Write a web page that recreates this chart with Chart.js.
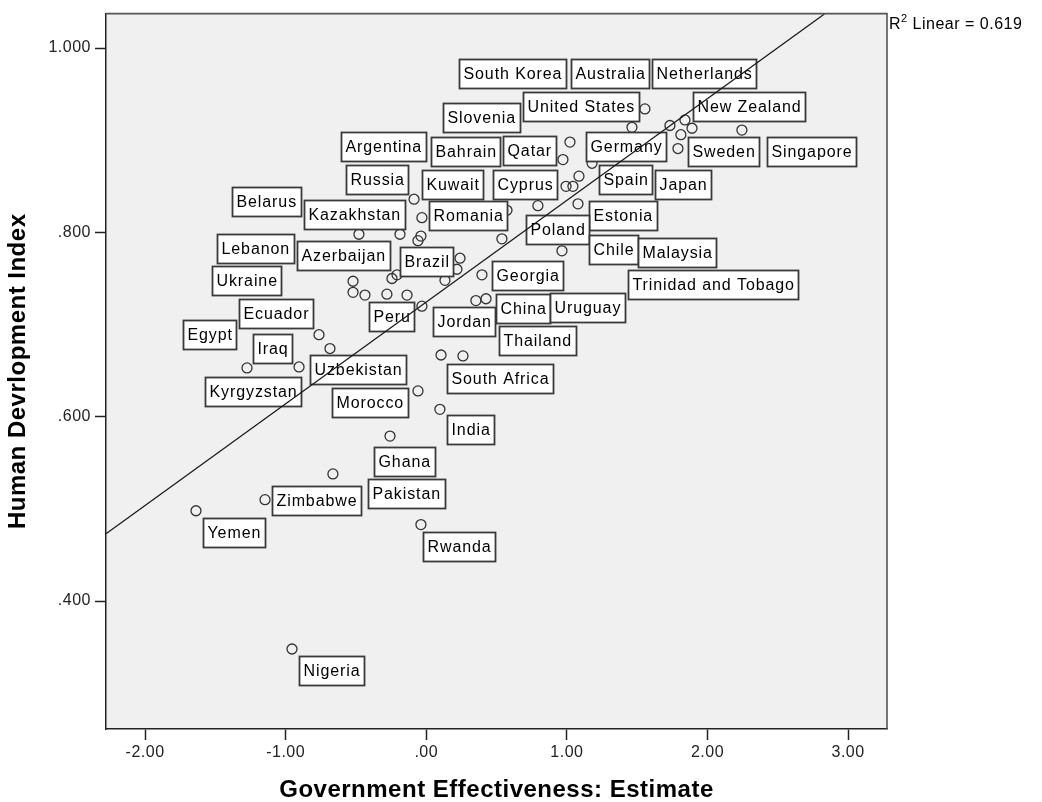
<!DOCTYPE html>
<html>
<head>
<meta charset="utf-8">
<script src="https://cdn.jsdelivr.net/npm/chart.js@4.4.1/dist/chart.umd.min.js"></script>
<style>
  body { margin: 0; background: #fff; }
  #wrap { width: 1042px; height: 802px; }
</style>
</head>
<body>
<div id="wrap"><canvas id="hdiChart" width="1042" height="802"></canvas></div>
<script>
const countries = ["South Korea","Australia","Netherlands","United States","New Zealand","Slovenia","Argentina","Bahrain","Qatar","Germany","Sweden","Singapore","Russia","Kuwait","Cyprus","Spain","Japan","Belarus","Kazakhstan","Romania","Estonia","Poland","Lebanon","Azerbaijan","Brazil","Chile","Malaysia","Ukraine","Georgia","Trinidad and Tobago","Ecuador","Peru","China","Uruguay","Jordan","Egypt","Thailand","Iraq","Uzbekistan","South Africa","Kyrgyzstan","Morocco","India","Ghana","Zimbabwe","Pakistan","Yemen","Rwanda","Nigeria","","","",""];

const govEffect = [1.022,1.555,1.840,1.463,1.890,0.972,-0.087,0.574,1.043,1.733,1.811,2.245,-0.187,-0.031,0.994,1.179,1.790,-0.479,-0.059,-0.038,1.086,0.794,-0.521,-0.244,-0.208,1.079,0.965,-0.521,0.396,0.240,-0.436,-0.280,0.425,0.538,0.133,-0.763,0.353,-1.275,-0.685,0.261,-0.905,-0.059,0.097,-0.258,-1.147,-0.664,-1.638,-0.038,-0.955,-0.137,-0.031,0.218,0.105];

const hdi = [0.898,0.934,0.922,0.914,0.913,0.879,0.836,0.824,0.850,0.916,0.906,0.911,0.798,0.816,0.850,0.875,0.891,0.798,0.791,0.796,0.861,0.829,0.735,0.750,0.754,0.831,0.780,0.747,0.754,0.772,0.732,0.733,0.728,0.793,0.748,0.689,0.726,0.653,0.674,0.666,0.654,0.628,0.608,0.579,0.510,0.538,0.498,0.483,0.348,0.732,0.720,0.760,0.667];

const xTicks = [-2, -1, 0, 1, 2, 3];
const yTicks = [0.4, 0.6, 0.8, 1.0];

// fit line end points
const fitX = [-2.278, 2.832];
const fitY = [0.473, 1.037];
const rSquared = "0.619";

const xTitle = "Government Effectiveness: Estimate";
const yTitle = "Human Devrlopment Index";

// where each label box sits, in pixels from its point (left, top)
const labelOffsets = {
  "South Korea": [-111,-83], "Australia": [-74,-50], "Netherlands": [-33,-61],
  "United States": [-109,-35], "New Zealand": [1,-36], "Slovenia": [-120,-57],
  "Argentina": [-73,-67], "Bahrain": [-76,-73], "Qatar": [-70,-50],
  "Germany": [-84,7], "Sweden": [7,2], "Singapore": [25,7],
  "Russia": [-54,-69], "Kuwait": [0,-48], "Cyprus": [-73,-16],
  "Spain": [7,2], "Japan": [-23,21], "Belarus": [-127,-47],
  "Kazakhstan": [-114,-41], "Romania": [8,-35], "Estonia": [10,25],
  "Poland": [-12,9], "Lebanon": [-136,-58], "Azerbaijan": [-95,-37],
  "Brazil": [3,-28], "Chile": [11,31], "Malaysia": [76,-13],
  "Ukraine": [-141,-15], "Georgia": [10,-14], "Trinidad and Tobago": [168,12],
  "Ecuador": [-126,4], "Peru": [-18,8], "China": [10,-5],
  "Uruguay": [48,54], "Jordan": [-12,27], "Egypt": [-136,-15],
  "Thailand": [23,25], "Iraq": [6,-34], "Uzbekistan": [-20,6],
  "South Africa": [-16,8], "Kyrgyzstan": [-94,10], "Morocco": [-86,-3],
  "India": [7,6], "Ghana": [-16,11], "Zimbabwe": [7,-14],
  "Pakistan": [35,5], "Yemen": [7,7], "Rwanda": [2,7], "Nigeria": [7,7]
};

const FONT = "'Liberation Sans', Arial, sans-serif";

const points = countries.map((c, i) => ({x: govEffect[i], y: hdi[i]}));
const fitLine = fitX.map((x, i) => ({x: x, y: fitY[i]}));

const plotBackground = {
  id: "plotBackground",
  beforeDraw(chart) {
    const {ctx, chartArea} = chart;
    ctx.save();
    ctx.fillStyle = "#fff";
    ctx.fillRect(0, 0, chart.width, chart.height);
    ctx.fillStyle = "#f0f0f0";
    ctx.fillRect(chartArea.left, chartArea.top, chartArea.right - chartArea.left, chartArea.bottom - chartArea.top);
    ctx.restore();
    ctx.letterSpacing = "0.5px";
  },
  afterDraw(chart) {
    const {ctx, chartArea} = chart;
    ctx.save();
    ctx.strokeStyle = "#555";
    ctx.lineWidth = 1.6;
    ctx.beginPath();
    ctx.moveTo(chartArea.left, chartArea.top);
    ctx.lineTo(chartArea.right, chartArea.top);
    ctx.lineTo(chartArea.right, chartArea.bottom);
    ctx.stroke();

    // R squared note
    ctx.fillStyle = "#000";
    ctx.textBaseline = "alphabetic";
    ctx.font = "16px " + FONT;
    let x = chartArea.right + 2;
    ctx.fillText("R", x, 29);
    x += ctx.measureText("R").width;
    ctx.font = "11px " + FONT;
    ctx.fillText("2", x, 22);
    x += ctx.measureText("2").width;
    ctx.font = "16px " + FONT;
    ctx.fillText(" Linear = " + rSquared, x, 29);
    ctx.restore();
  }
};

const labelBoxes = {
  id: "labelBoxes",
  afterDatasetDraw(chart, args) {
    if (args.index !== 1) return;
    const ctx = chart.ctx;
    ctx.save();
    ctx.font = "16px " + FONT;
    ctx.letterSpacing = "0.9px";
    ctx.textBaseline = "middle";
    args.meta.data.forEach((pt, i) => {
      const name = countries[i];
      const off = labelOffsets[name];
      if (!off) return;
      const w = Math.round(ctx.measureText(name).width + 8);
      const bx = Math.round(pt.x + off[0]) + 0.5;
      const by = Math.round(pt.y + off[1]) + 0.5;
      ctx.fillStyle = "#fff";
      ctx.fillRect(bx, by, w, 29);
      ctx.strokeStyle = "#3a3a3a";
      ctx.lineWidth = 1.8;
      ctx.strokeRect(bx, by, w, 29);
      ctx.fillStyle = "#000";
      ctx.fillText(name, bx + 4, by + 15);
    });
    ctx.restore();
  }
};

function fmtX(v) {
  return Number(v).toFixed(2).replace(/^(-?)0\./, "$1.");
}
function fmtY(v) {
  return Number(v).toFixed(3).replace(/^0\./, ".");
}

new Chart("hdiChart", {
  type: "scatter",
  data: {
    datasets: [
      {
        type: "line",
        data: fitLine,
        borderColor: "#1a1a1a",
        borderWidth: 1.3,
        pointRadius: 0,
        fill: false,
        tension: 0
      },
      {
        data: points,
        pointRadius: 5,
        pointBorderWidth: 1.3,
        borderColor: "#333",
        backgroundColor: "rgba(0,0,0,0)",
        pointHoverRadius: 5
      }
    ]
  },
  options: {
    responsive: false,
    animation: false,
    events: [],
    layout: { padding: { top: 9, right: 155, left: 0, bottom: 0 } },
    plugins: {
      legend: { display: false },
      tooltip: { enabled: false }
    },
    scales: {
      x: {
        type: "linear",
        min: -2.278,
        max: 3.277,
        afterBuildTicks: (scale) => { scale.ticks = xTicks.map(v => ({value: v})); },
        afterFit: (scale) => { scale.height = 73; },
        grid: { drawOnChartArea: false, drawTicks: true, tickLength: 11, tickWidth: 1.5, tickColor: "#222" },
        border: { display: true, color: "#222", width: 1.5 },
        ticks: { callback: fmtX, color: "#222", padding: 3, maxRotation: 0, font: { size: 16, family: FONT } },
        title: { display: true, text: xTitle, color: "#000", padding: { top: 0, bottom: 0 },
                 font: { size: 24, weight: "bold", family: FONT, lineHeight: 1 } }
      },
      y: {
        type: "linear",
        min: 0.2612,
        max: 1.0374,
        afterBuildTicks: (scale) => { scale.ticks = yTicks.map(v => ({value: v})); },
        afterFit: (scale) => { scale.width = 106; },
        grid: { drawOnChartArea: false, drawTicks: true, tickLength: 11, tickWidth: 1.5, tickColor: "#222" },
        border: { display: true, color: "#222", width: 1.5 },
        ticks: { callback: fmtY, color: "#222", padding: 4, font: { size: 16, family: FONT } },
        title: { display: true, text: yTitle, color: "#000", padding: { top: 6, bottom: 0 },
                 font: { size: 24, weight: "bold", family: FONT, lineHeight: 1 } }
      }
    }
  },
  plugins: [plotBackground, labelBoxes]
});
</script>
</body>
</html>
